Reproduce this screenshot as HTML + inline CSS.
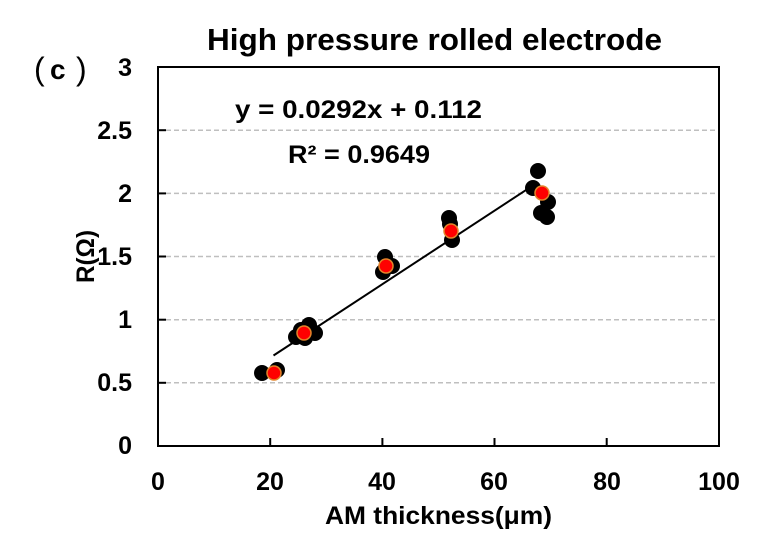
<!DOCTYPE html>
<html><head><meta charset="utf-8"><style>
html,body{margin:0;padding:0;background:#fff;}
svg{display:block;}
text{font-family:"Liberation Sans","Noto Sans CJK SC",sans-serif;font-weight:bold;fill:#000;}
</style></head><body>
<svg width="774" height="538" viewBox="0 0 774 538" xmlns="http://www.w3.org/2000/svg">
<rect width="774" height="538" fill="#fff"/>
<!-- title -->
<text x="207" y="50" font-size="31" textLength="455" lengthAdjust="spacingAndGlyphs">High pressure rolled electrode</text>
<text x="34" y="80" font-size="32" style="font-weight:normal">(</text>
<text x="50" y="79" font-size="28">c</text>
<text x="76" y="80" font-size="32" style="font-weight:normal">)</text>
<!-- gridlines -->
<g stroke="#bfbfbf" stroke-width="1.5" stroke-dasharray="5,3">
<line x1="166" y1="130.2" x2="718" y2="130.2"/>
<line x1="166" y1="193.4" x2="718" y2="193.4"/>
<line x1="166" y1="256.5" x2="718" y2="256.5"/>
<line x1="166" y1="319.7" x2="718" y2="319.7"/>
<line x1="166" y1="382.8" x2="718" y2="382.8"/>
</g>
<!-- ticks -->
<g stroke="#000" stroke-width="2">
<line x1="158" y1="130.2" x2="166" y2="130.2"/>
<line x1="158" y1="193.4" x2="166" y2="193.4"/>
<line x1="158" y1="256.5" x2="166" y2="256.5"/>
<line x1="158" y1="319.7" x2="166" y2="319.7"/>
<line x1="158" y1="382.8" x2="166" y2="382.8"/>
<line x1="270.2" y1="446" x2="270.2" y2="438"/>
<line x1="382.4" y1="446" x2="382.4" y2="438"/>
<line x1="494.5" y1="446" x2="494.5" y2="438"/>
<line x1="606.7" y1="446" x2="606.7" y2="438"/>
</g>
<rect x="158" y="67" width="561" height="379" fill="none" stroke="#000" stroke-width="2"/>
<!-- y labels -->
<g font-size="25" text-anchor="end">
<text x="132" y="76">3</text>
<text x="132" y="139">2.5</text>
<text x="132" y="202">2</text>
<text x="132" y="265">1.5</text>
<text x="132" y="328">1</text>
<text x="132" y="391">0.5</text>
<text x="132" y="454">0</text>
</g>
<!-- x labels -->
<g font-size="25" text-anchor="middle">
<text x="158" y="490">0</text>
<text x="270" y="490">20</text>
<text x="382" y="490">40</text>
<text x="494" y="490">60</text>
<text x="607" y="490">80</text>
<text x="719" y="490">100</text>
</g>
<text x="325" y="524" font-size="25" textLength="227" lengthAdjust="spacingAndGlyphs">AM thickness(μm)</text>
<text transform="translate(94,283) rotate(-90)" font-size="25" textLength="53" lengthAdjust="spacingAndGlyphs">R(Ω)</text>
<!-- equation -->
<text x="235" y="118" font-size="25" textLength="247" lengthAdjust="spacingAndGlyphs">y = 0.0292x  + 0.112</text>
<text x="288" y="163" font-size="25" textLength="142" lengthAdjust="spacingAndGlyphs">R² = 0.9649</text>
<!-- black points -->
<g fill="#000">
<circle cx="262" cy="373" r="8"/>
<circle cx="277" cy="370" r="8"/>
<circle cx="296" cy="337" r="8"/>
<circle cx="301" cy="330" r="8"/>
<circle cx="309" cy="325" r="8"/>
<circle cx="315" cy="333" r="8"/>
<circle cx="305" cy="338" r="8"/>
<circle cx="385" cy="257" r="8"/>
<circle cx="392" cy="266" r="8"/>
<circle cx="383" cy="272" r="8"/>
<circle cx="449" cy="218" r="8"/>
<circle cx="450" cy="224" r="8"/>
<circle cx="452" cy="240" r="8"/>
<circle cx="538" cy="171" r="8"/>
<circle cx="533" cy="188" r="8"/>
<circle cx="548" cy="202" r="8"/>
<circle cx="541" cy="213" r="8"/>
<circle cx="547" cy="217" r="8"/>
</g>
<!-- trendline -->
<line x1="273.5" y1="355.5" x2="534" y2="184.8" stroke="#000" stroke-width="2"/>
<!-- red mean points -->
<g fill="#ff0000" stroke="#e3852a" stroke-width="1.5">
<circle cx="274" cy="373" r="7"/>
<circle cx="304" cy="333" r="7"/>
<circle cx="386" cy="266" r="7"/>
<circle cx="451" cy="231" r="7"/>
<circle cx="542" cy="193" r="7"/>
</g>
</svg>
</body></html>
